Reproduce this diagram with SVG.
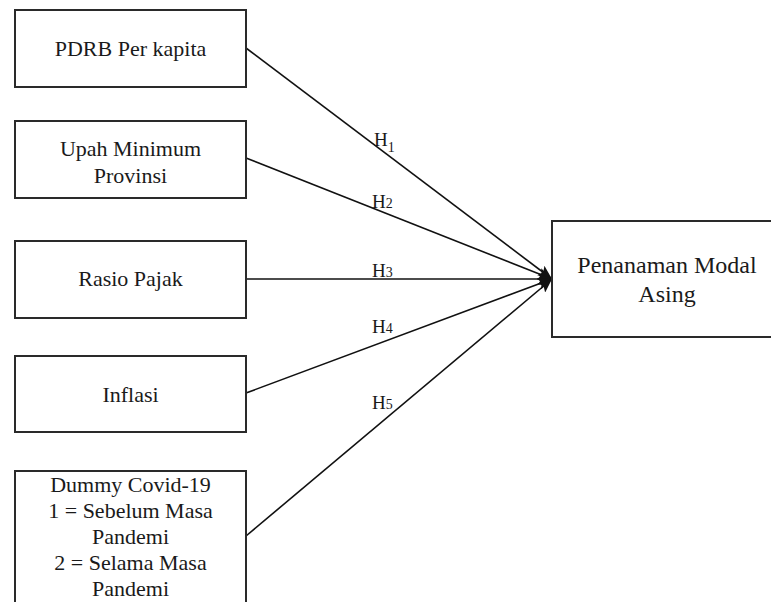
<svg xmlns="http://www.w3.org/2000/svg" width="771" height="602" viewBox="0 0 771 602">
<style>
  .box { fill: #fff; stroke: #2a2a2a; stroke-width: 2; }
  .t { font-family: 'Liberation Serif', 'DejaVu Serif', serif; font-size: 22px; fill: #1a1a1a; text-anchor: middle; }
  .tr { font-family: 'Liberation Serif', 'DejaVu Serif', serif; font-size: 24px; fill: #1a1a1a; text-anchor: middle; }
  .h { font-family: 'Liberation Serif', 'DejaVu Serif', serif; font-size: 19px; fill: #1a1a1a; }
  .sub { font-size: 14px; }
  .c { stroke: #111; stroke-width: 1.6; fill: none; marker-end: url(#ah); }
</style>
<defs>
  <marker id="ah" viewBox="0 0 14 12" refX="14" refY="6" markerWidth="14" markerHeight="12" markerUnits="userSpaceOnUse" orient="auto">
    <path d="M0,0 L14,6 L0,12 L3,6 z" fill="#111"/>
  </marker>
</defs>
<rect width="771" height="602" fill="#fff"/>
<g id="connectors">
  <line class="c" x1="246" y1="48" x2="552" y2="279"/>
  <line class="c" x1="246" y1="158" x2="552" y2="279"/>
  <line class="c" x1="246" y1="279" x2="552" y2="279"/>
  <line class="c" x1="246" y1="393" x2="552" y2="279"/>
  <line class="c" x1="246" y1="536" x2="552" y2="279"/>
  <text class="h" x="374" y="146">H<tspan class="sub" dy="6">1</tspan></text>
  <text class="h" x="372" y="208">H<tspan class="sub">2</tspan></text>
  <text class="h" x="372" y="277">H<tspan class="sub">3</tspan></text>
  <text class="h" x="372" y="333">H<tspan class="sub">4</tspan></text>
  <text class="h" x="372" y="409">H<tspan class="sub">5</tspan></text>
</g>
<g id="pdrb">
  <rect class="box" x="15" y="10" width="231" height="77"/>
  <text class="t" x="130.5" y="56">PDRB Per kapita</text>
</g>
<g id="upah">
  <rect class="box" x="15" y="121" width="231" height="77"/>
  <text class="t" x="130.5" y="156">Upah Minimum</text>
  <text class="t" x="130.5" y="183">Provinsi</text>
</g>
<g id="rasio">
  <rect class="box" x="15" y="241" width="231" height="77"/>
  <text class="t" x="130.5" y="286">Rasio Pajak</text>
</g>
<g id="inflasi">
  <rect class="box" x="15" y="356" width="231" height="76"/>
  <text class="t" x="130.5" y="402">Inflasi</text>
</g>
<g id="dummy">
  <rect class="box" x="15" y="471" width="231" height="140"/>
  <text class="t" x="130.5" y="492">Dummy Covid-19</text>
  <text class="t" x="130.5" y="518">1 = Sebelum Masa</text>
  <text class="t" x="130.5" y="544">Pandemi</text>
  <text class="t" x="130.5" y="570">2 = Selama Masa</text>
  <text class="t" x="130.5" y="596">Pandemi</text>
</g>
<g id="pma">
  <rect class="box" x="552" y="221" width="230" height="116"/>
  <text class="tr" x="667" y="273">Penanaman Modal</text>
  <text class="tr" x="667" y="302">Asing</text>
</g>
</svg>
